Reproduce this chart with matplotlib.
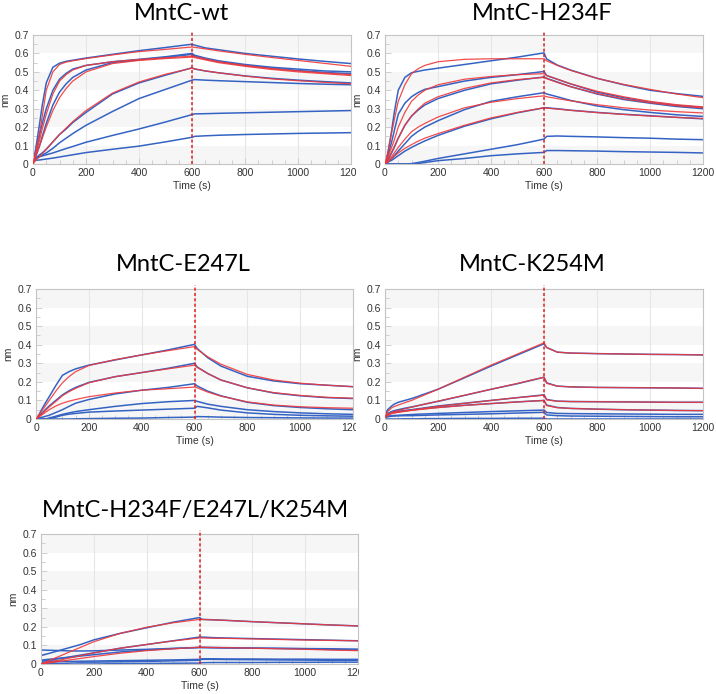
import numpy as np
import matplotlib
matplotlib.use('Agg')
import matplotlib.pyplot as plt
from matplotlib.patches import Rectangle
from matplotlib.ticker import MultipleLocator

# ---------------- data ----------------
time_s = [0, 10, 25, 35, 50, 75, 100, 125, 150, 200, 300, 400, 500, 600,
          610, 650, 700, 800, 900, 1000, 1100, 1200]

x_ticks = [0, 200, 400, 600, 800, 1000, 1200]
x_tick_labels = ['0', '200', '400', '600', '800', '1000', '1200']
y_ticks = [0, 0.1, 0.2, 0.3, 0.4, 0.5, 0.6, 0.7]
y_tick_labels = ['0', '0.1', '0.2', '0.3', '0.4', '0.5', '0.6', '0.7']

titles = ['MntC-wt', 'MntC-H234F', 'MntC-E247L', 'MntC-K254M', 'MntC-H234F/E247L/K254M']

wt_blue = [
    [0.01, 0.08, 0.22, 0.32, 0.44, 0.525, 0.547, 0.557, 0.563, 0.575, 0.595, 0.615, 0.632, 0.65, 0.645, 0.63, 0.62, 0.60, 0.585, 0.57, 0.557, 0.545],
    [0.01, 0.06, 0.16, 0.22, 0.30, 0.40, 0.46, 0.492, 0.515, 0.535, 0.555, 0.568, 0.582, 0.60, 0.59, 0.575, 0.56, 0.54, 0.525, 0.515, 0.505, 0.50],
    [0.01, 0.04, 0.10, 0.15, 0.22, 0.32, 0.39, 0.435, 0.47, 0.51, 0.55, 0.565, 0.578, 0.595, 0.585, 0.57, 0.555, 0.535, 0.52, 0.507, 0.497, 0.49],
    [0.02, 0.03, 0.05, 0.06, 0.08, 0.12, 0.16, 0.19, 0.225, 0.28, 0.38, 0.44, 0.482, 0.522, 0.515, 0.505, 0.495, 0.478, 0.465, 0.455, 0.447, 0.44],
    [0.02, 0.03, 0.04, 0.048, 0.06, 0.085, 0.115, 0.14, 0.165, 0.21, 0.285, 0.355, 0.405, 0.455, 0.458, 0.455, 0.452, 0.447, 0.442, 0.437, 0.433, 0.43],
    [0.03, 0.035, 0.04, 0.044, 0.05, 0.06, 0.072, 0.084, 0.095, 0.118, 0.155, 0.19, 0.228, 0.268, 0.272, 0.273, 0.275, 0.278, 0.281, 0.284, 0.287, 0.29],
    [0.015, 0.02, 0.022, 0.024, 0.027, 0.032, 0.038, 0.044, 0.05, 0.062, 0.08, 0.097, 0.12, 0.145, 0.15, 0.153, 0.156, 0.16, 0.163, 0.166, 0.168, 0.17],
]
wt_red = [
    [0.0, 0.06, 0.17, 0.26, 0.40, 0.50, 0.54, 0.553, 0.56, 0.572, 0.592, 0.61, 0.622, 0.635, 0.633, 0.625, 0.614, 0.595, 0.578, 0.562, 0.546, 0.53],
    [0.0, 0.05, 0.13, 0.19, 0.27, 0.38, 0.45, 0.485, 0.51, 0.535, 0.555, 0.567, 0.576, 0.585, 0.582, 0.57, 0.555, 0.535, 0.518, 0.505, 0.494, 0.485],
    [0.0, 0.04, 0.10, 0.14, 0.20, 0.29, 0.36, 0.41, 0.45, 0.50, 0.545, 0.562, 0.572, 0.58, 0.577, 0.565, 0.55, 0.53, 0.513, 0.50, 0.49, 0.48],
    [0.0, 0.02, 0.04, 0.055, 0.08, 0.12, 0.16, 0.195, 0.23, 0.29, 0.385, 0.445, 0.487, 0.52, 0.517, 0.505, 0.495, 0.477, 0.462, 0.452, 0.443, 0.435],
]

h234f_blue = [
    [0.0, 0.05, 0.18, 0.28, 0.40, 0.47, 0.495, 0.503, 0.51, 0.52, 0.54, 0.56, 0.58, 0.603, 0.57, 0.537, 0.51, 0.465, 0.43, 0.40, 0.382, 0.367],
    [0.0, 0.04, 0.12, 0.18, 0.27, 0.33, 0.365, 0.388, 0.405, 0.42, 0.45, 0.47, 0.485, 0.502, 0.48, 0.46, 0.435, 0.39, 0.36, 0.335, 0.318, 0.307],
    [0.0, 0.02, 0.06, 0.09, 0.14, 0.21, 0.26, 0.293, 0.32, 0.355, 0.40, 0.435, 0.455, 0.472, 0.465, 0.445, 0.42, 0.38, 0.35, 0.33, 0.312, 0.30],
    [0.0, 0.01, 0.03, 0.045, 0.07, 0.11, 0.15, 0.177, 0.20, 0.235, 0.295, 0.34, 0.365, 0.387, 0.38, 0.365, 0.345, 0.315, 0.295, 0.28, 0.267, 0.258],
    [0.0, 0.01, 0.02, 0.03, 0.045, 0.07, 0.09, 0.108, 0.125, 0.155, 0.205, 0.245, 0.278, 0.305, 0.305, 0.30, 0.292, 0.28, 0.27, 0.262, 0.253, 0.245],
    [0.0, 0.0, 0.0, 0.0, 0.0, 0.0, 0.002, 0.008, 0.015, 0.03, 0.055, 0.08, 0.105, 0.135, 0.15, 0.152, 0.15, 0.147, 0.143, 0.14, 0.135, 0.132],
    [0.0, 0.0, 0.0, 0.0, 0.0, 0.0, 0.0, 0.003, 0.008, 0.018, 0.03, 0.045, 0.055, 0.063, 0.073, 0.073, 0.072, 0.07, 0.067, 0.065, 0.063, 0.06],
]
h234f_red = [
    [0.0, 0.06, 0.17, 0.24, 0.34, 0.43, 0.49, 0.517, 0.535, 0.555, 0.568, 0.571, 0.571, 0.571, 0.56, 0.535, 0.508, 0.465, 0.432, 0.405, 0.38, 0.36],
    [0.0, 0.035, 0.09, 0.13, 0.20, 0.28, 0.34, 0.374, 0.40, 0.43, 0.46, 0.475, 0.485, 0.49, 0.48, 0.46, 0.435, 0.395, 0.365, 0.34, 0.322, 0.31],
    [0.0, 0.025, 0.065, 0.095, 0.14, 0.21, 0.26, 0.298, 0.33, 0.365, 0.41, 0.44, 0.458, 0.47, 0.463, 0.443, 0.42, 0.382, 0.353, 0.333, 0.316, 0.305],
    [0.0, 0.015, 0.04, 0.06, 0.09, 0.135, 0.175, 0.20, 0.22, 0.255, 0.305, 0.335, 0.355, 0.37, 0.365, 0.355, 0.343, 0.322, 0.305, 0.293, 0.284, 0.277],
    [0.0, 0.01, 0.03, 0.042, 0.06, 0.085, 0.105, 0.124, 0.14, 0.165, 0.21, 0.25, 0.28, 0.305, 0.303, 0.298, 0.291, 0.279, 0.269, 0.26, 0.253, 0.247],
]

e247l_blue = [
    [0.0, 0.02, 0.06, 0.085, 0.12, 0.18, 0.235, 0.255, 0.27, 0.29, 0.318, 0.345, 0.372, 0.402, 0.38, 0.33, 0.285, 0.23, 0.205, 0.19, 0.182, 0.174],
    [0.0, 0.015, 0.035, 0.05, 0.07, 0.10, 0.13, 0.152, 0.17, 0.197, 0.228, 0.25, 0.273, 0.30, 0.28, 0.245, 0.21, 0.168, 0.14, 0.125, 0.115, 0.11],
    [0.0, 0.005, 0.01, 0.014, 0.02, 0.035, 0.05, 0.068, 0.085, 0.105, 0.135, 0.155, 0.17, 0.19, 0.178, 0.15, 0.125, 0.09, 0.072, 0.062, 0.055, 0.05],
    [0.0, 0.0, 0.0, 0.0, 0.005, 0.015, 0.025, 0.033, 0.04, 0.05, 0.068, 0.083, 0.093, 0.10, 0.095, 0.08, 0.068, 0.05, 0.04, 0.033, 0.028, 0.025],
    [0.0, 0.0, 0.0, 0.0, 0.002, 0.01, 0.02, 0.026, 0.03, 0.037, 0.043, 0.048, 0.053, 0.058, 0.068, 0.06, 0.048, 0.033, 0.025, 0.02, 0.017, 0.015],
    [0.0, 0.0, 0.0, 0.0, 0.0, 0.0, 0.0, 0.0, 0.001, 0.002, 0.004, 0.005, 0.008, 0.01, 0.013, 0.012, 0.01, 0.008, 0.007, 0.006, 0.005, 0.005],
]
e247l_red = [
    [0.0, 0.02, 0.05, 0.07, 0.10, 0.15, 0.195, 0.228, 0.255, 0.288, 0.32, 0.345, 0.368, 0.39, 0.375, 0.335, 0.295, 0.24, 0.21, 0.193, 0.182, 0.174],
    [0.0, 0.012, 0.03, 0.045, 0.065, 0.095, 0.125, 0.147, 0.165, 0.195, 0.228, 0.25, 0.27, 0.29, 0.278, 0.245, 0.21, 0.168, 0.142, 0.127, 0.117, 0.112],
    [0.0, 0.01, 0.025, 0.035, 0.05, 0.07, 0.085, 0.096, 0.105, 0.12, 0.14, 0.155, 0.163, 0.172, 0.168, 0.145, 0.123, 0.092, 0.075, 0.066, 0.061, 0.058],
]

k254m_blue = [
    [0.02, 0.05, 0.07, 0.08, 0.09, 0.10, 0.11, 0.122, 0.135, 0.16, 0.222, 0.285, 0.345, 0.405, 0.385, 0.36, 0.355, 0.352, 0.35, 0.348, 0.347, 0.345],
    [0.01, 0.03, 0.04, 0.045, 0.05, 0.058, 0.065, 0.072, 0.08, 0.095, 0.127, 0.16, 0.19, 0.225, 0.195, 0.177, 0.173, 0.17, 0.169, 0.168, 0.167, 0.165],
    [0.01, 0.025, 0.035, 0.037, 0.04, 0.045, 0.05, 0.055, 0.06, 0.07, 0.085, 0.10, 0.115, 0.13, 0.105, 0.096, 0.094, 0.093, 0.092, 0.091, 0.09, 0.09],
    [0.01, 0.025, 0.035, 0.037, 0.04, 0.045, 0.048, 0.052, 0.056, 0.063, 0.074, 0.083, 0.092, 0.10, 0.075, 0.062, 0.057, 0.053, 0.05, 0.048, 0.046, 0.045],
    [0.01, 0.015, 0.018, 0.019, 0.02, 0.022, 0.024, 0.026, 0.027, 0.03, 0.035, 0.04, 0.044, 0.048, 0.035, 0.03, 0.029, 0.028, 0.027, 0.026, 0.025, 0.025],
    [0.005, 0.012, 0.015, 0.016, 0.017, 0.018, 0.018, 0.019, 0.02, 0.022, 0.025, 0.028, 0.032, 0.036, 0.022, 0.018, 0.016, 0.015, 0.014, 0.013, 0.012, 0.012],
    [0.0, 0.0, 0.0, 0.0, 0.0, 0.001, 0.001, 0.001, 0.002, 0.002, 0.003, 0.003, 0.004, 0.004, 0.0, 0.0, 0.0, 0.0, 0.0, 0.0, 0.0, 0.0],
]
k254m_red = [
    [0.01, 0.04, 0.06, 0.067, 0.075, 0.088, 0.10, 0.115, 0.13, 0.16, 0.225, 0.29, 0.35, 0.41, 0.385, 0.36, 0.355, 0.352, 0.35, 0.348, 0.347, 0.345],
    [0.01, 0.025, 0.035, 0.04, 0.045, 0.055, 0.063, 0.072, 0.08, 0.096, 0.128, 0.16, 0.192, 0.225, 0.192, 0.177, 0.173, 0.17, 0.169, 0.168, 0.167, 0.165],
    [0.01, 0.02, 0.03, 0.033, 0.037, 0.043, 0.048, 0.053, 0.058, 0.068, 0.084, 0.10, 0.115, 0.128, 0.103, 0.096, 0.094, 0.093, 0.092, 0.091, 0.09, 0.09],
    [0.01, 0.02, 0.03, 0.033, 0.036, 0.041, 0.046, 0.05, 0.054, 0.061, 0.073, 0.083, 0.092, 0.10, 0.072, 0.061, 0.057, 0.053, 0.05, 0.048, 0.046, 0.045],
]

triple_blue = [
    [0.045, 0.05, 0.055, 0.059, 0.065, 0.075, 0.085, 0.095, 0.105, 0.13, 0.165, 0.195, 0.225, 0.25, 0.24, 0.238, 0.235, 0.228, 0.222, 0.216, 0.21, 0.205],
    [0.02, 0.022, 0.025, 0.026, 0.028, 0.032, 0.036, 0.042, 0.048, 0.06, 0.085, 0.105, 0.125, 0.145, 0.145, 0.142, 0.14, 0.137, 0.134, 0.131, 0.128, 0.125],
    [0.075, 0.075, 0.074, 0.074, 0.073, 0.072, 0.071, 0.07, 0.07, 0.071, 0.075, 0.079, 0.084, 0.088, 0.088, 0.087, 0.086, 0.085, 0.084, 0.083, 0.082, 0.08],
    [0.015, 0.017, 0.02, 0.022, 0.025, 0.03, 0.035, 0.039, 0.043, 0.05, 0.065, 0.075, 0.083, 0.09, 0.09, 0.089, 0.088, 0.086, 0.084, 0.082, 0.078, 0.075],
    [0.02, 0.02, 0.018, 0.017, 0.016, 0.014, 0.012, 0.011, 0.01, 0.01, 0.012, 0.014, 0.017, 0.02, 0.025, 0.025, 0.024, 0.023, 0.022, 0.021, 0.02, 0.02],
    [0.01, 0.01, 0.011, 0.011, 0.012, 0.013, 0.014, 0.014, 0.015, 0.016, 0.018, 0.02, 0.022, 0.025, 0.028, 0.028, 0.027, 0.027, 0.026, 0.026, 0.025, 0.025],
    [0.005, 0.005, 0.004, 0.004, 0.003, 0.002, 0.001, 0.0, 0.0, 0.0, 0.002, 0.003, 0.004, 0.005, 0.007, 0.008, 0.008, 0.008, 0.009, 0.009, 0.01, 0.01],
]
triple_red = [
    [0.0, 0.006, 0.015, 0.021, 0.03, 0.045, 0.06, 0.075, 0.09, 0.12, 0.165, 0.198, 0.222, 0.24, 0.24, 0.238, 0.235, 0.228, 0.222, 0.216, 0.21, 0.205],
    [0.0, 0.003, 0.008, 0.011, 0.015, 0.022, 0.03, 0.037, 0.045, 0.06, 0.085, 0.105, 0.124, 0.14, 0.14, 0.139, 0.138, 0.135, 0.132, 0.129, 0.127, 0.125],
    [0.0, 0.002, 0.005, 0.007, 0.01, 0.015, 0.02, 0.025, 0.03, 0.04, 0.058, 0.072, 0.082, 0.09, 0.09, 0.089, 0.088, 0.085, 0.082, 0.079, 0.075, 0.072],
]

association_end = 600

# ---------------- layout / style ----------------
W, H = 716, 694
fig = plt.figure(figsize=(W / 100, H / 100), dpi=100)
fig.patch.set_facecolor('white')

BLUE = '#3563c4'
RED = '#f0383a'
TICK_FONT = 'Liberation Sans'
TITLE_FONT = 'Lato'

# (left, top, right, bottom) in pixels, title centre (x, y) in pixels
layout = [
    ((33, 35, 351, 164), (182, 13)),
    ((385, 35, 703, 164), (542, 13)),
    ((36, 289, 353, 419), (183, 265)),
    ((385, 289, 703, 419), (532, 265)),
    ((41, 534, 358, 664), (195, 510)),
]
series = [
    (wt_blue, wt_red),
    (h234f_blue, h234f_red),
    (e247l_blue, e247l_red),
    (k254m_blue, k254m_red),
    (triple_blue, triple_red),
]

t = np.array(time_s, dtype=float)

for (box, tpos), title, (blues, reds) in zip(layout, titles, series):
    l, top, r, b = box
    ax = fig.add_axes([l / W, 1 - b / H, (r - l) / W, (b - top) / H])
    ax.set_xlim(0, 1200)
    ax.set_ylim(0, 0.7)
    ax.set_facecolor('white')
    for k in range(0, 7, 2):
        ax.axhspan(y_ticks[k], y_ticks[k + 1], color='#f6f6f6', lw=0, zorder=0)
    for xv in x_ticks[1:-1]:
        ax.axvline(xv, color='#e6e6e6', lw=0.8, zorder=0.5)

    for ys in blues:
        ax.plot(t, ys, color=BLUE, lw=1.1, zorder=2, solid_joinstyle='round')
    for ys in reds:
        ax.plot(t, ys, color=RED, lw=0.9, alpha=0.9, zorder=3, solid_joinstyle='round')

    ax.axvline(association_end, ymin=0, ymax=1.03, color='#e02020', lw=1.1,
               ls=(0, (2, 1.5)), zorder=4, clip_on=False)

    ax.set_xticks(x_ticks)
    ax.set_xticklabels(x_tick_labels)
    ax.set_yticks(y_ticks)
    ax.set_yticklabels(y_tick_labels)
    ax.xaxis.set_minor_locator(MultipleLocator(50))
    ax.yaxis.set_minor_locator(MultipleLocator(0.05))
    ax.tick_params(which='both', direction='in', color='#c8c8c8', width=0.6)
    ax.tick_params(which='major', length=4, pad=3, labelsize=7.5, labelcolor='#333333')
    ax.tick_params(which='minor', length=3)
    for lab in ax.get_xticklabels() + ax.get_yticklabels():
        lab.set_fontfamily(TICK_FONT)
    for sp in ax.spines.values():
        sp.set_color('#c4c4c4')
        sp.set_linewidth(0.8)
    ax.set_xlabel('Time (s)', fontsize=7.5, family=TICK_FONT, color='#333333', labelpad=2)
    ax.set_ylabel('nm', fontsize=7.5, family=TICK_FONT, color='#333333', labelpad=3)

    fig.text(tpos[0] / W, 1 - tpos[1] / H, title, ha='center', va='center',
             fontsize=17, family=TITLE_FONT, color='black')

# crop the right-most x labels of the left column like the original screenshots
for (x0, y0, w, h) in [(356, 166, 16, 16), (356, 421, 16, 16), (359, 666, 40, 16)]:
    fig.add_artist(Rectangle((x0 / W, 1 - (y0 + h) / H), w / W, h / H,
                             transform=fig.transFigure, facecolor='white',
                             edgecolor='none', zorder=10))

fig.savefig('out.png', dpi=100, facecolor='white')
